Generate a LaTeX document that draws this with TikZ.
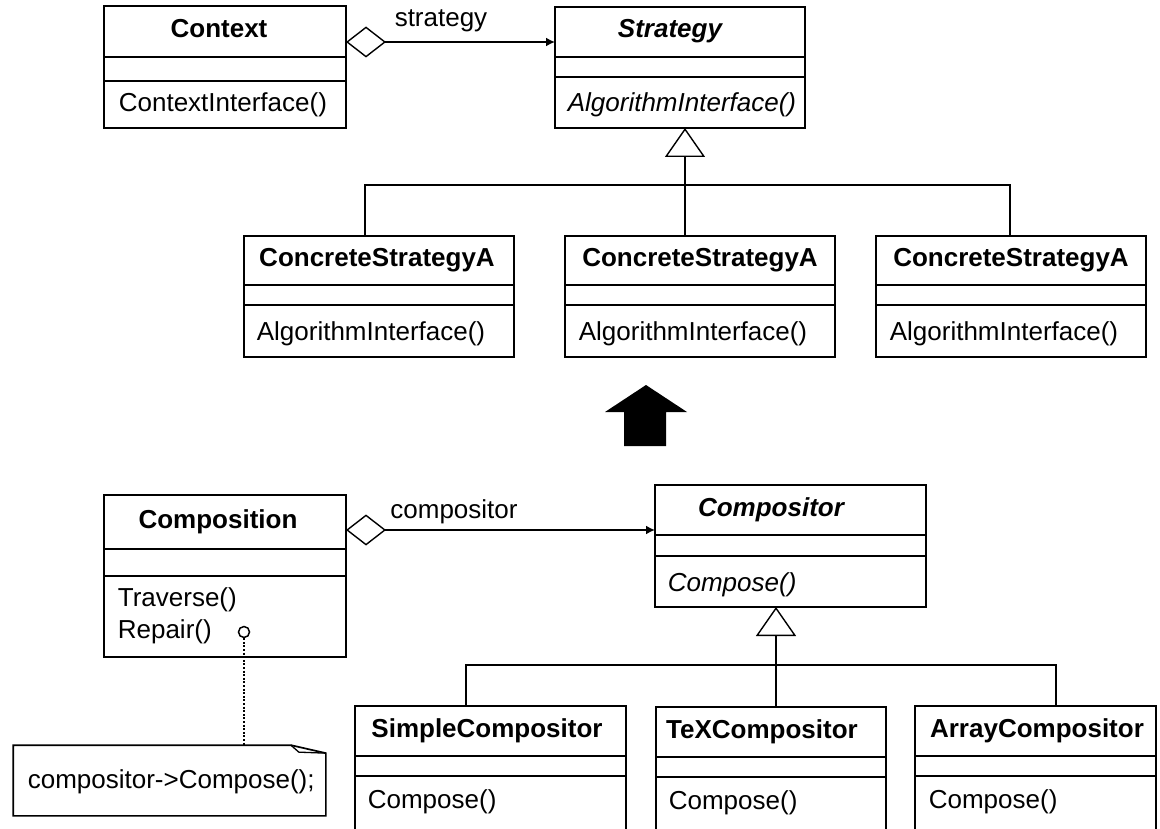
\documentclass[tikz,border=0pt]{standalone}
\usepackage{fontspec}
\setmainfont{Liberation Sans}
\usetikzlibrary{arrows.meta,calc}

% A UML class: #1 name, #2 left, #3 right, #4 top, #5 first rule,
% #6 second rule, #7 bottom, #8 x of the title, #9 title
\newcommand\umlclass[9]{%
  \node[classbox, minimum width={#3-#2}, minimum height={#7-#4}]
    (#1) at ({(#2+#3)/2},{(#4+#7)/2}) {};
  \draw[rule] (#2,#5) -- (#3,#5) (#2,#6) -- (#3,#6);
  \node[titletext] (#1-title) at (#8,{(#4+#5)/2+6}) {#9};
}

\begin{document}
\begin{tikzpicture}[x=1pt,y=-1pt,
  line width=1.7pt,
  classbox/.style={draw, rectangle, inner sep=0pt, outer sep=0pt, line width=1.7pt},
  rule/.style={line width=1.7pt},
  titletext/.style={anchor=base, inner sep=0pt, font=\fontsize{26}{30}\selectfont\bfseries},
  optext/.style={anchor=base west, inner sep=0pt, font=\fontsize{26}{30}\selectfont},
  absop/.style={optext, font=\fontsize{26}{30}\selectfont\itshape},
  rolelabel/.style={anchor=base, inner sep=0pt, font=\fontsize{26}{30}\selectfont},
  assoc/.style={line width=1.7pt,
    {Diamond[open,length=40pt,width=31pt,line width=1.4pt]}-{Latex[length=9pt,width=9pt]}},
  inherit/.style={line width=1.7pt,
    -{Triangle[open,length=29pt,width=40pt,line width=1.4pt]}},
  bar/.style={line width=1.7pt},
  notelink/.style={line width=2.5pt, dash pattern=on 2pt off 1.6pt},
]
\fill[white] (0,0) rectangle (1160,829);
\useasboundingbox (0,0) rectangle (1160,829);
\clip (0,0) rectangle (1160,829);

% ---------- Strategy pattern ----------
\umlclass{ctx}{104}{346}{6}{57}{81}{128}{219}{Context}
\node[optext] (ctx-op) at (118,112) {ContextInterface()};

\umlclass{strategy}{555}{805}{7}{57}{77}{128}{670}{\itshape Strategy}
\node[absop] (strategy-op) at (567,112) {AlgorithmInterface()};

\umlclass{csa}{244}{514}{236}{285}{305}{357}{377}{ConcreteStrategyA}
\node[optext] (csa-op) at (256,340) {AlgorithmInterface()};
\umlclass{csb}{565}{835}{236}{285}{305}{357}{700}{ConcreteStrategyA}
\node[optext] (csb-op) at (578,340) {AlgorithmInterface()};
\umlclass{csc}{876}{1146}{236}{285}{305}{357}{1011}{ConcreteStrategyA}
\node[optext] (csc-op) at (889,340) {AlgorithmInterface()};

\coordinate (ctx-port) at ($(ctx.north east)+(0,36)$);
\draw[assoc] (ctx-port) -- (ctx-port -| strategy.west);
\node[rolelabel] (strategy-role) at (441,27) {strategy};

\coordinate (strategy-apex) at ($(strategy.south west)+(130,0)$);
\draw[inherit] (strategy-apex |- csb.north) -- (strategy-apex);
\draw[bar] ($(csa.north)+(-14,0)$) -- ++(0,-51) -| ($(csc.north)+(-1,0)$);

% ---------- "is an instance of" arrow ----------
\fill (605,412) -- (646,385) -- (687,412) -- (666,412) -- (666,446)
  -- (624,446) -- (624,412) -- cycle;

% ---------- Compositor example ----------
\umlclass{composition}{104}{346}{495}{549}{576}{657}{218}{Composition}
\node[optext] (composition-op1) at (117,606) {Traverse()};
\node[optext] (composition-op2) at (117,638) {Repair()};

\umlclass{compositor}{655}{926}{485}{535}{556}{607}{771}{\itshape Compositor}
\node[absop] (compositor-op) at (667,591) {Compose()};

\umlclass{simple}{355}{626}{706}{756}{776}{831}{487}{SimpleCompositor}
\node[optext] (simple-op) at (367,808) {Compose()};
\umlclass{tex}{656}{886}{707}{757}{777}{831}{762}{TeXCompositor}
\node[optext] (tex-op) at (668,809) {Compose()};
\umlclass{array}{915}{1156}{706}{756}{776}{831}{1037}{ArrayCompositor}
\node[optext] (array-op) at (928,808) {Compose()};

\coordinate (composition-port) at ($(composition.north east)+(0,35)$);
\draw[assoc] (composition-port) -- (composition-port -| compositor.west);
\node[rolelabel] (compositor-role) at (454,518) {compositor};

\coordinate (compositor-apex) at ($(compositor.south west)+(121,0)$);
\draw[inherit] (compositor-apex |- tex.north) -- (compositor-apex);
\draw[bar] ($(simple.north)+(-24.5,0)$) -- ++(0,-41) -| ($(array.north)+(20.5,0)$);

% note attached to Repair()
\node[circle, draw, minimum size=11pt, inner sep=0pt, line width=1.5pt] (pin) at (244,632) {};
\node[minimum width=311pt, minimum height=69pt, inner sep=0pt] (note) at (169.5,780.5) {};
\draw[line width=1.7pt] (note.north west) -- ($(note.north east)+(-35,0)$)
  -- ($(note.north east)+(0,8)$) -- (note.south east) -- (note.south west) -- cycle;
\draw[line width=1.3pt] ($(note.north east)+(-35,0)$) -- ($(note.north east)+(-27,7)$)
  -- ($(note.north east)+(0,8)$);
\node[optext] (note-text) at (27,788) {compositor->Compose();};
\draw[notelink] (pin.south) -- (pin |- note.north);

\end{tikzpicture}
\end{document}
